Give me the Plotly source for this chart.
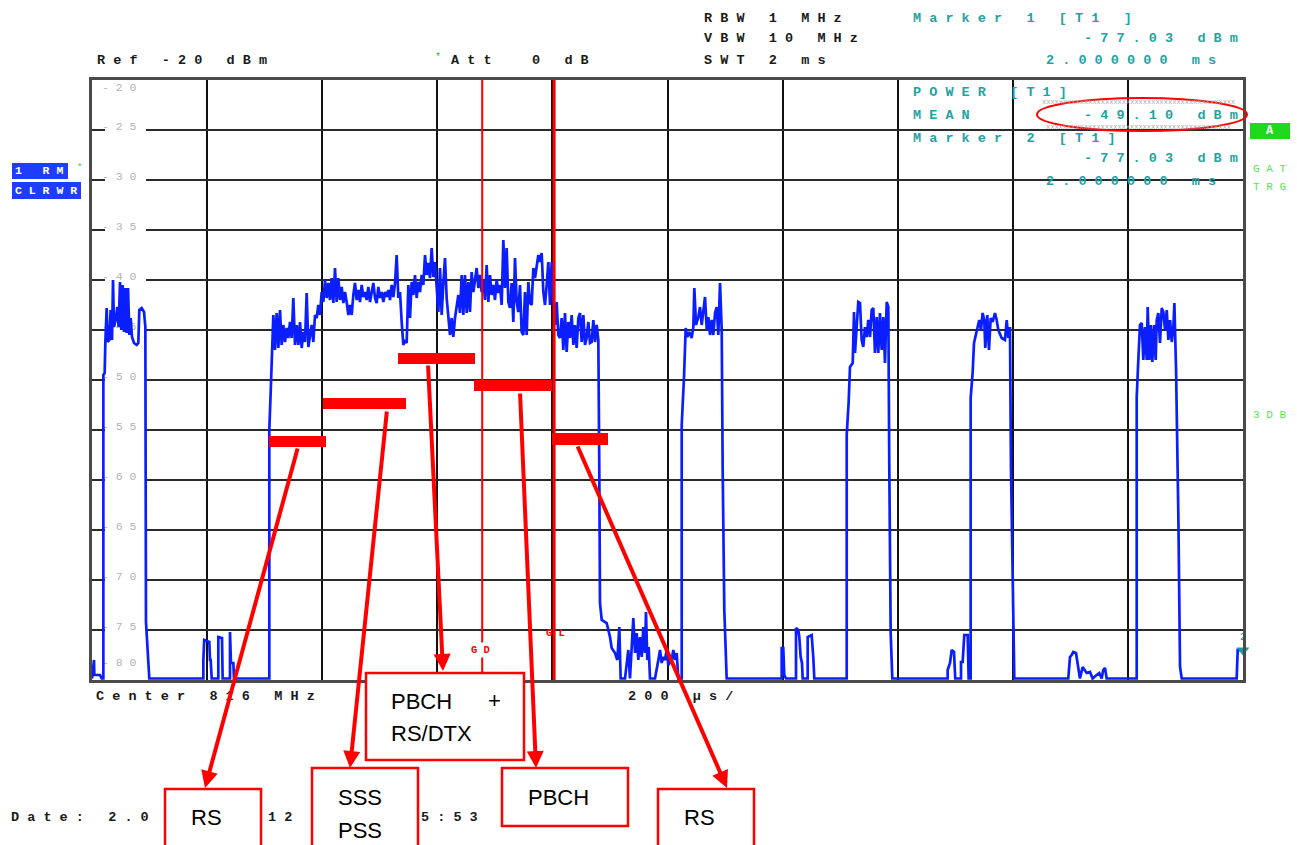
import plotly.graph_objects as go

X_GRID_US = [0, 200, 400, 600, 800, 1000, 1200, 1400, 1600, 1800, 2000]
Y_LEVELS_DBM = [-20, -25, -30, -35, -40, -45, -50, -55, -60, -65, -70, -75, -80]
Y_TICK_TEXT = ["-20", "-25", "-30", "-35", "-40", "-45", "-50", "-55", "-60",
               "-65", "-70", "-75", "-80"]

FLOOR = -79.85

PULSE1_T = [0, 2.3, 3.5, 4.0, 13.9, 16.8, 19.7, 19.7, 22.0, 23.2, 25.5, 27.2, 30.1, 32.4,
            34.8, 36.5, 38.2, 41.1, 44.0, 46.3, 48.7, 51.0, 53.3, 55.6, 57.9, 60.2, 62.6,
            64.9, 67.2, 69.5, 73.0, 77.6, 80.5, 82.2, 86.3, 90.4, 92.7, 93.8, 96.7, 99.6]
PULSE1_V = [FLOOR, -78.0, -78.0, -79.5, -79.5, FLOOR, FLOOR, -49.5, -49.3, -46.2, -42.8,
            -46.2, -46.0, -43.0, -46.0, -40.0, -44.7, -44.0, -42.7, -44.7, -40.2, -45.0,
            -40.5, -45.2, -40.8, -45.3, -40.8, -45.5, -43.8, -45.7, -46.3, -46.5, -46.3,
            -43.0, -42.8, -43.2, -44.7, -74.2, -77.2, FLOOR]

SPIKES1_T = [193.5, 193.5, 195.0, 203.9, 205.0, 206.2, 208.0, 219.5, 219.5, 225.9, 227.0,
             239.8, 239.8, 241.5, 245.6, 246.7]
SPIKES1_V = [FLOOR, -78.0, -76.0, -76.2, -78.0, -78.0, FLOOR, FLOOR, -75.7, -75.8, FLOOR,
             FLOOR, -75.2, -78.3, -78.3, FLOOR]

RISE2_T = [308.1, 308.1, 310.5, 312.8]
RISE2_V = [FLOOR, -55.0, -51.2, -47.3]

# sweep points of the long burst (SSS/PSS/PBCH), one every DENSE_DT_US
DENSE_T0_US = 315.1
DENSE_DT_US = 2.896
DENSE_V = [
    -43.5, -47.0, -43.3, -46.8, -43.0, -46.5, -44.5, -46.2, -44.8, -45.8,
    -44.2, -45.8, -41.8, -46.5, -44.5, -46.5, -44.2, -46.8, -45.2, -46.2,
    -41.3, -46.7, -45.8, -44.5, -46.2, -43.5, -43.8, -42.5, -43.5, -41.2,
    -42.2, -40.0, -41.8, -40.3, -42.0, -39.8, -42.3, -38.8, -42.2, -39.8,
    -42.0, -40.7, -42.3, -41.2, -42.2, -43.5, -42.5, -43.5, -41.5, -40.3,
    -42.0, -41.0, -42.2, -40.5, -41.7, -41.2, -42.0, -40.7, -42.2, -41.2,
    -40.3, -41.8, -42.3, -40.7, -41.8, -41.2, -42.2, -41.2, -41.7, -41.0,
    -42.0, -40.5, -41.7, -40.3, -37.5, -41.8, -41.2, -44.2, -46.5, -46.0,
    -46.3, -40.5, -43.8, -40.2, -41.5, -39.5, -41.8, -40.2, -41.2, -39.5,
    -40.5, -37.5, -39.5, -38.3, -39.8, -36.8, -39.7, -38.2, -40.3, -43.2,
    -38.8, -43.5, -40.3, -37.8, -41.8, -43.8, -45.5, -43.8, -45.7, -43.8,
    -42.5, -41.5, -43.3, -39.5, -43.5, -39.5, -43.3, -40.2, -43.2, -39.2,
    -41.2, -39.8, -38.8, -40.8, -39.5, -41.2, -40.0, -42.0, -38.5, -42.2,
    -39.5, -41.5, -40.5, -42.0, -40.0, -41.3, -40.5, -42.5, -36.0, -40.8,
    -36.8, -42.2, -42.8, -40.3, -44.2, -37.8, -42.2, -43.2, -40.5, -45.2,
    -45.5, -41.2, -45.5, -40.2, -42.3, -42.5, -38.8, -39.8, -38.5, -37.5,
    -38.2, -37.3, -41.2, -42.5, -40.5, -38.2, -42.5, -38.2, -41.7, -44.5,
    -42.2, -45.5, -45.8, -43.8, -47.0, -43.3, -47.2, -44.2, -45.8, -43.5,
    -46.5, -44.5, -46.8, -43.8, -43.3, -46.2, -43.5, -46.5, -45.8, -44.2,
    -46.3, -46.2, -44.0, -46.2, -44.5, -46.0,
]

TAIL2_T = [881.5, 882.7, 885.7, 894.3, 900.1, 903.0, 908.8, 912.8, 916.3, 918.6,
           926.2, 931.9, 934.8, 940.6, 943.6, 946.5, 949.3, 952.2, 955.2, 958.0,
           960.9, 962.6, 964.9, 967.3, 969.6, 978.3, 984.1, 987.0, 989.9, 992.7,
           995.7, 998.6, 1001.4, 1007.3, 1010.1, 1013.0, 1016.0, 1018.8]
TAIL2_V = [-59.0, -72.3, -74.0, -74.3, -75.7, -76.8, -77.3, -78.0, -74.7, FLOOR,
           FLOOR, -77.0, FLOOR, -73.8, -77.3, -75.3, -78.0, -75.7, -77.7, -74.7,
           -77.3, -73.2, -78.0, -76.7, FLOOR, FLOOR, -78.0, -77.0, -78.3, -77.7,
           -78.0, -77.0, -78.5, -78.0, -77.0, -78.0, -77.3, FLOOR]

PULSE3_T = [1024.7, 1024.7, 1028.7, 1031.6, 1034.4, 1037.9, 1042.0, 1044.9, 1046.6, 1049.6,
            1053.6, 1056.5, 1059.4, 1062.3, 1065.2, 1068.2, 1071.0, 1073.9, 1076.9, 1079.6,
            1082.6, 1085.5, 1088.3, 1091.3, 1094.2, 1095.9, 1098.7, 1102.8]
PULSE3_V = [FLOOR, -54.5, -49.7, -44.8, -45.7, -45.2, -45.8, -44.7, -40.8, -44.5,
            -43.7, -42.7, -44.5, -43.3, -41.7, -45.0, -43.7, -45.5, -44.0, -45.5,
            -43.3, -42.7, -45.5, -40.3, -45.0, -59.0, -73.0, FLOOR]

SPIKES2_T = [1198.4, 1198.4, 1201.2, 1202.9, 1205.9, 1223.3, 1223.3, 1227.3, 1229.0, 1231.4,
             1233.7, 1234.9, 1243.6, 1243.6, 1250.5, 1253.3, 1255.1]
SPIKES2_V = [FLOOR, -76.8, -76.8, -79.5, FLOOR, FLOOR, -74.8, -75.0, -75.7, -77.7,
             -78.3, FLOOR, FLOOR, -75.7, -75.5, -77.7, FLOOR]

PULSE4_T = [1311.4, 1311.4, 1314.8, 1317.1, 1321.8, 1324.1, 1325.8, 1328.7, 1331.5, 1334.5,
            1337.4, 1340.2, 1343.2, 1346.1, 1348.9, 1351.9, 1354.8, 1357.6, 1360.5, 1363.5,
            1366.3, 1369.2, 1372.2, 1375.0, 1377.9, 1380.9, 1383.7, 1385.4, 1387.8, 1390.6]
PULSE4_V = [FLOOR, -55.5, -52.2, -48.7, -48.3, -43.2, -47.3, -44.0, -42.2, -42.3,
            -46.0, -46.7, -44.7, -45.7, -44.0, -45.7, -43.0, -42.8, -47.3, -43.7,
            -47.3, -43.3, -47.0, -43.7, -48.3, -42.2, -42.7, -58.8, -75.3, FLOOR]

SPIKES3_T = [1486.8, 1486.8, 1490.9, 1493.8, 1497.8, 1500.0, 1510.0, 1510.0, 1512.9, 1515.7,
             1521.6, 1523.3]
SPIKES3_V = [FLOOR, -79.0, -78.3, -77.0, -77.2, FLOOR, FLOOR, -78.2, -78.2, -75.5, -75.5, FLOOR]

PULSE5_T = [1526.8, 1526.8, 1530.3, 1532.6, 1536.0, 1539.0, 1541.7, 1544.7, 1547.6, 1550.4,
            1552.2, 1555.7, 1558.6, 1561.6, 1565.0, 1569.0, 1572.0, 1574.8, 1580.7, 1586.4,
            1589.4, 1592.2, 1595.1, 1596.8, 1600.9, 1602.6]
PULSE5_V = [FLOOR, -51.8, -49.2, -46.3, -45.5, -44.7, -44.0, -45.0, -43.3, -44.0,
            -46.8, -43.5, -47.0, -43.8, -44.2, -43.3, -44.0, -45.0, -45.8, -46.0,
            -44.0, -45.8, -44.7, -58.7, -73.0, FLOOR]

SPIKES4_T = [1696.4, 1699.4, 1702.3, 1705.1, 1709.8, 1712.7, 1716.7, 1721.4, 1725.4, 1728.3,
             1734.1, 1738.7, 1745.7, 1750.2, 1754.4, 1757.1, 1760.2, 1763.1]
SPIKES4_V = [FLOOR, -77.7, -77.5, -77.2, -77.3, -78.3, FLOOR, -78.7, -79.0, -79.3,
             -79.2, FLOOR, -79.5, -79.3, FLOOR, -79.0, -78.8, FLOOR]

PULSE6_T = [1815.3, 1815.3, 1818.1, 1821.0, 1824.0, 1826.8, 1829.7, 1832.7, 1834.4, 1837.2,
            1839.6, 1842.4, 1845.4, 1848.3, 1850.1, 1852.9, 1855.8, 1858.8, 1861.6, 1864.6,
            1867.5, 1870.3, 1873.3, 1876.2, 1879.0, 1880.8, 1882.5, 1883.7, 1887.7, 1890.6,
            1893.5]
PULSE6_V = [FLOOR, -51.7, -48.0, -44.5, -44.3, -48.0, -44.7, -48.0, -42.7, -48.0,
            -44.5, -48.2, -44.5, -48.0, -44.0, -43.3, -46.3, -42.8, -43.2, -45.0,
            -43.0, -46.0, -44.0, -46.2, -44.7, -42.3, -46.3, -49.0, -63.7, -78.7,
            FLOOR]

END_T = [1989.0, 1990.8, 1997.7, 2000.0]
END_V = [FLOOR, -77.0, -77.0, -77.03]

GD_US = 678          # gate delay line
GL_US = 803          # gate length line
MARKER_US = 2000
MARKER_DBM = -77.03
POWER_MEAN_DBM = -49.10
REF_DBM = -20

# ---------------- assemble trace ----------------
dense_t = [DENSE_T0_US + DENSE_DT_US * i for i in range(len(DENSE_V))]
trace_t = (PULSE1_T + SPIKES1_T + RISE2_T + dense_t + TAIL2_T + PULSE3_T + SPIKES2_T
           + PULSE4_T + SPIKES3_T + PULSE5_T + SPIKES4_T + PULSE6_T + END_T)
trace_v = (PULSE1_V + SPIKES1_V + RISE2_V + DENSE_V + TAIL2_V + PULSE3_V + SPIKES2_V
           + PULSE4_V + SPIKES3_V + PULSE5_V + SPIKES4_V + PULSE6_V + END_V)

# ---------------- layout geometry (pixels of the page) ----------------
W, H = 1297, 845
PL, PR, PT, PB = 92, 1243, 80, 680
MONO = "Liberation Mono, Courier New, monospace"
SANS = "Liberation Sans, Arial, sans-serif"
TEAL = "#1fa3a3"
RED = "#ff0000"
INK = "#1a1a1a"


def px(x):
    return (x - PL) / (PR - PL)


def py(y):
    return (PB - y) / (PB - PT)


def us_at(xpix):
    return (xpix - PL) / (PR - PL) * X_GRID_US[-1]


def sp(s):
    return " ".join(s)


annotations = []


def label(text, x, y, color, size=13.5, xanchor="left", family=MONO, spaced=True,
          bg=None, bold=False):
    s = sp(text) if spaced else text
    if bold:
        s = "<b>" + s + "</b>"
    d = dict(text=s, x=px(x), y=py(y), xref="paper", yref="paper", xanchor=xanchor,
             yanchor="middle", showarrow=False,
             font=dict(family=family, size=size, color=color))
    if bg:
        d["bgcolor"] = bg
    annotations.append(d)


fig = go.Figure()

# horizontal grid lines, interrupted where the level labels sit
gap0, gap1 = us_at(105), us_at(146)
gx, gy = [], []
for lv in Y_LEVELS_DBM[1:-1]:
    gx += [X_GRID_US[0], gap0, None, gap1, X_GRID_US[-1], None]
    gy += [lv, lv, None, lv, lv, None]
fig.add_trace(go.Scatter(x=gx, y=gy, mode="lines", line=dict(color="#2a2a2a", width=2),
                         hoverinfo="skip"))

# level labels drawn inside the screen
lab_y = []
for i, lv in enumerate(Y_LEVELS_DBM):
    if i == 0:
        lab_y.append(lv - 0.85)
    elif i == len(Y_LEVELS_DBM) - 1:
        lab_y.append(lv + 1.7)
    else:
        lab_y.append(lv + 0.3)
fig.add_trace(go.Scatter(x=[us_at(102)] * len(Y_TICK_TEXT), y=lab_y, mode="text",
                         text=[sp(t) for t in Y_TICK_TEXT], textposition="middle right",
                         textfont=dict(family=MONO, size=11.5, color="#b4b4b4"),
                         hoverinfo="skip"))

# measured trace
fig.add_trace(go.Scatter(x=trace_t, y=trace_v, mode="lines",
                         line=dict(color="#0a1eff", width=2.7), hoverinfo="skip"))

# marker 2
fig.add_trace(go.Scatter(x=[MARKER_US], y=[MARKER_DBM], mode="markers+text",
                         marker=dict(symbol="triangle-down", size=11, color="#1a9c9c"),
                         text=["2"], textposition="top center",
                         textfont=dict(family=MONO, size=10, color="#1a9c9c"),
                         cliponaxis=False, hoverinfo="skip"))

shapes = []
# gate lines
shapes.append(dict(type="line", xref="x", yref="y", x0=GD_US, x1=GD_US, y0=-79.2,
                   y1=Y_LEVELS_DBM[0], line=dict(color=RED, width=2)))
shapes.append(dict(type="line", xref="x", yref="y", x0=GL_US, x1=GL_US,
                   y0=Y_LEVELS_DBM[-1], y1=Y_LEVELS_DBM[0], line=dict(color=RED, width=3)))

# red level bars
for (x0, x1, y0, y1) in [(269, 326, 436, 447), (323, 406, 398, 409), (398, 475, 353, 364),
                         (474, 552, 380, 391), (552, 608, 433, 445)]:
    shapes.append(dict(type="rect", xref="paper", yref="paper", x0=px(x0), x1=px(x1),
                       y0=py(y1), y1=py(y0), fillcolor=RED, line=dict(width=0)))

# white callout boxes
for (x0, x1, y0, y1) in [(366, 524, 673, 760), (165, 261, 789, 860), (312, 418, 768, 860),
                         (502, 628, 768, 826), (658, 754, 789, 860)]:
    shapes.append(dict(type="rect", xref="paper", yref="paper", x0=px(x0), x1=px(x1),
                       y0=py(y1), y1=py(y0), fillcolor="white",
                       line=dict(color=RED, width=2.5)))

# ellipse round the mean power readout
shapes.append(dict(type="circle", xref="paper", yref="paper", x0=px(1037), x1=px(1247),
                   y0=py(131), y1=py(98), line=dict(color=RED, width=2)))

# left status boxes and right "A" box
shapes.append(dict(type="rect", xref="paper", yref="paper", x0=px(12), x1=px(68),
                   y0=py(179), y1=py(163), fillcolor="#1f3dff", line=dict(width=0)))
shapes.append(dict(type="rect", xref="paper", yref="paper", x0=px(12), x1=px(81),
                   y0=py(199), y1=py(182), fillcolor="#1f3dff", line=dict(width=0)))
shapes.append(dict(type="rect", xref="paper", yref="paper", x0=px(1250), x1=px(1290),
                   y0=py(139), y1=py(123), fillcolor="#1fd81f", line=dict(width=0)))

# ---------------- texts ----------------
label(f"Ref {REF_DBM} dBm", 95, 61, INK, bold=True)
label("*", 433, 57, "#22cc22", size=10, spaced=False)
label("Att  0 dB", 449, 61, INK, bold=True)
label("RBW 1 MHz", 702, 18, INK, bold=True)
label("VBW 10 MHz", 702, 39, INK, bold=True)
label("SWT 2 ms", 702, 61, INK, bold=True)
label("Marker 1 [T1 ]", 911, 18, TEAL, bold=True)
label(f"{MARKER_DBM:.2f} dBm", 1240, 39, TEAL, xanchor="right", bold=True)
label(f"{MARKER_US / 1000:.6f} ms", 1218, 61, TEAL, xanchor="right", bold=True)

# dotted highlight rows
label("x" * 46, 1040, 102, "#a8a8a8", size=7, spaced=False)
label("x" * 44, 1044, 127, "#a8a8a8", size=7, spaced=False)

label("POWER [T1]", 911, 92, TEAL, bold=True)
label("MEAN", 911, 115, TEAL, bold=True)
label(f"{POWER_MEAN_DBM:.2f} dBm", 1240, 115, TEAL, xanchor="right", bold=True)
label("Marker 2 [T1]", 911, 138, TEAL, bold=True)
label(f"{MARKER_DBM:.2f} dBm", 1240, 158, TEAL, xanchor="right", bold=True)
label(f"{MARKER_US / 1000:.6f} ms", 1218, 181, TEAL, xanchor="right", bold=True)

label("A", 1270, 131, "white", size=12, xanchor="center", bold=True)
label("GAT", 1251, 169, "#55e455", size=11)
label("TRG", 1251, 187, "#55e455", size=11)
label("3DB", 1251, 415, "#55e455", size=11)

label("1 RM", 13, 171, "white", size=11.5, bold=True)
label("*", 75, 168, "#22cc22", size=9, spaced=False)
label("CLRWR", 13, 190.5, "white", size=11.5, bold=True)

label("Center 816 MHz", 94, 696, INK, bold=True)
label("200 \u00b5s/", 626, 696, INK, bold=True)
label("Date: 2.0", 9, 817, INK, bold=True)
label("12", 266, 817, INK, bold=True)
label("5:53", 419, 817, INK, bold=True)

label("GD", 481, 650, RED, size=10.5, xanchor="center", bg="white", bold=True)
label("GL", 555, 633, RED, size=10.5, xanchor="center", bold=True)

# callout texts
label("PBCH", 389, 701, "#000", size=22, family=SANS, spaced=False)
label("+", 486, 700, "#000", size=22, family=SANS, spaced=False)
label("RS/DTX", 389, 733, "#000", size=22, family=SANS, spaced=False)
label("RS", 189, 817, "#000", size=22, family=SANS, spaced=False)
label("SSS", 336, 797, "#000", size=22, family=SANS, spaced=False)
label("PSS", 336, 830, "#000", size=22, family=SANS, spaced=False)
label("PBCH", 526, 797, "#000", size=22, family=SANS, spaced=False)
label("RS", 682, 817, "#000", size=22, family=SANS, spaced=False)

# red arrows: (tail) -> (tip)
for (tx, ty, hx, hy) in [(298, 447, 205, 788), (387, 410, 350, 768), (428, 364, 443, 671),
                         (520, 392, 536, 768), (577, 445, 727, 788)]:
    annotations.append(dict(text="", x=px(hx), y=py(hy), xref="paper", yref="paper",
                            ax=tx - hx, ay=ty - hy, axref="pixel", ayref="pixel",
                            showarrow=True, arrowhead=2, arrowsize=0.85, arrowwidth=4,
                            arrowcolor=RED, standoff=0))

fig.update_layout(
    width=W, height=H,
    margin=dict(l=PL, r=W - PR, t=PT, b=H - PB, pad=0),
    paper_bgcolor="white", plot_bgcolor="white",
    showlegend=False,
    shapes=shapes,
    annotations=annotations,
    xaxis=dict(range=[X_GRID_US[0], X_GRID_US[-1]], tickvals=X_GRID_US, showticklabels=False,
               ticks="", showgrid=True, gridcolor="#111111", gridwidth=2, zeroline=False,
               showline=True, mirror=True, linecolor="#4a4a4a", linewidth=3,
               fixedrange=True),
    yaxis=dict(range=[Y_LEVELS_DBM[-1], Y_LEVELS_DBM[0]], showticklabels=False, ticks="",
               showgrid=False, zeroline=False, showline=True, mirror=True,
               linecolor="#4a4a4a", linewidth=3, fixedrange=True),
)

fig.write_html("out.html")
